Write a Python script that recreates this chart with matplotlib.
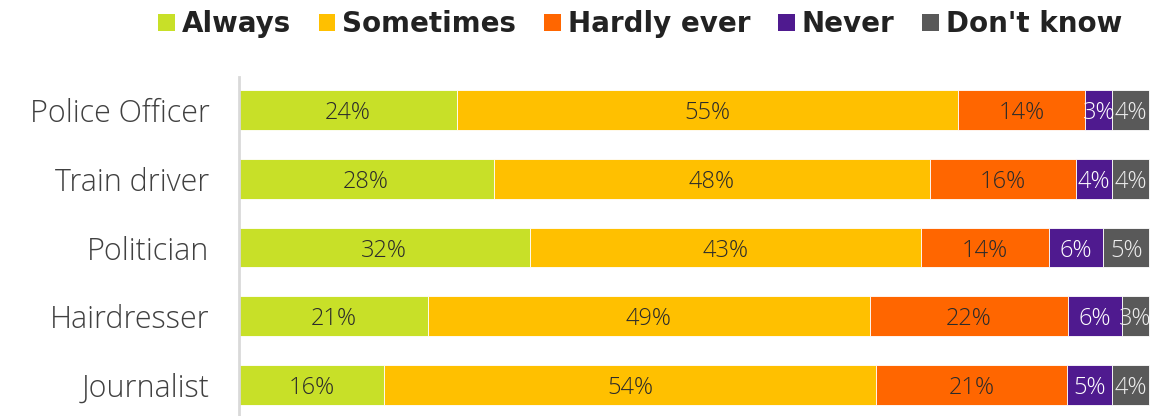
import numpy as np
import matplotlib
matplotlib.use('Agg')
import matplotlib.pyplot as plt
from matplotlib.patches import Patch

plt.rcParams['font.family'] = ['Open Sans', 'DejaVu Sans']

jobs = ['Police Officer', 'Train driver', 'Politician', 'Hairdresser', 'Journalist']
answers = ['Always', 'Sometimes', 'Hardly ever', 'Never', "Don't know"]
always = [24, 28, 32, 21, 16]
sometimes = [55, 48, 43, 49, 54]
hardly = [14, 16, 14, 22, 21]
never = [3, 4, 6, 6, 5]
dont_know = [4, 4, 5, 3, 4]

colors = ['#C8E028', '#FFC000', '#FF6600', '#4F1A8F', '#595959']
text_colors = ['#2B2B2B', '#2B2B2B', '#2B2B2B', 'white', '#EEEEEE']

series = [always, sometimes, hardly, never, dont_know]
# rows are scaled to 100% (rounded values may add up to 101)
totals = np.sum(np.array(series, dtype=float), axis=0)

fig = plt.figure(figsize=(11.53, 4.16), dpi=100)
ax = fig.add_axes([0.207, 0.0, 0.791, 0.815])

y = np.arange(len(jobs))
left = np.zeros(len(jobs))
for vals, col, tcol in zip(series, colors, text_colors):
    vals = np.array(vals, dtype=float)
    widths = vals / totals * 100
    ax.barh(y, widths, left=left, height=0.58, color=col, edgecolor='white', linewidth=0.6)
    for yi, (l, w, v) in enumerate(zip(left, widths, vals)):
        ax.text(l + w / 2, yi, '%d%%' % v, ha='center', va='center_baseline',
                fontsize=17, color=tcol, fontweight='light')
    left += widths

ax.set_ylim(len(jobs) - 0.55, -0.48)
ax.set_xlim(0, 100.2)
ax.set_yticks(y)
ax.set_yticklabels(jobs, fontsize=22, color='#404040', fontweight='light',
                   va='center_baseline')
ax.tick_params(axis='y', length=0, pad=21)
ax.set_xticks([])
for s in ['top', 'right', 'bottom']:
    ax.spines[s].set_visible(False)
ax.spines['left'].set_color('#D9D9D9')
ax.spines['left'].set_linewidth(2)

handles = [Patch(facecolor=c, label=a) for c, a in zip(colors, answers)]
fig.legend(handles=handles, loc='upper center', bbox_to_anchor=(0.555, 1.035), ncol=5,
           frameon=False, handlelength=0.6, handleheight=0.6, handletextpad=0.25,
           columnspacing=1.0, prop={'family': 'DejaVu Sans', 'size': 20, 'weight': 'bold'},
           labelcolor='#222222')

fig.savefig('out.png', dpi=100)
